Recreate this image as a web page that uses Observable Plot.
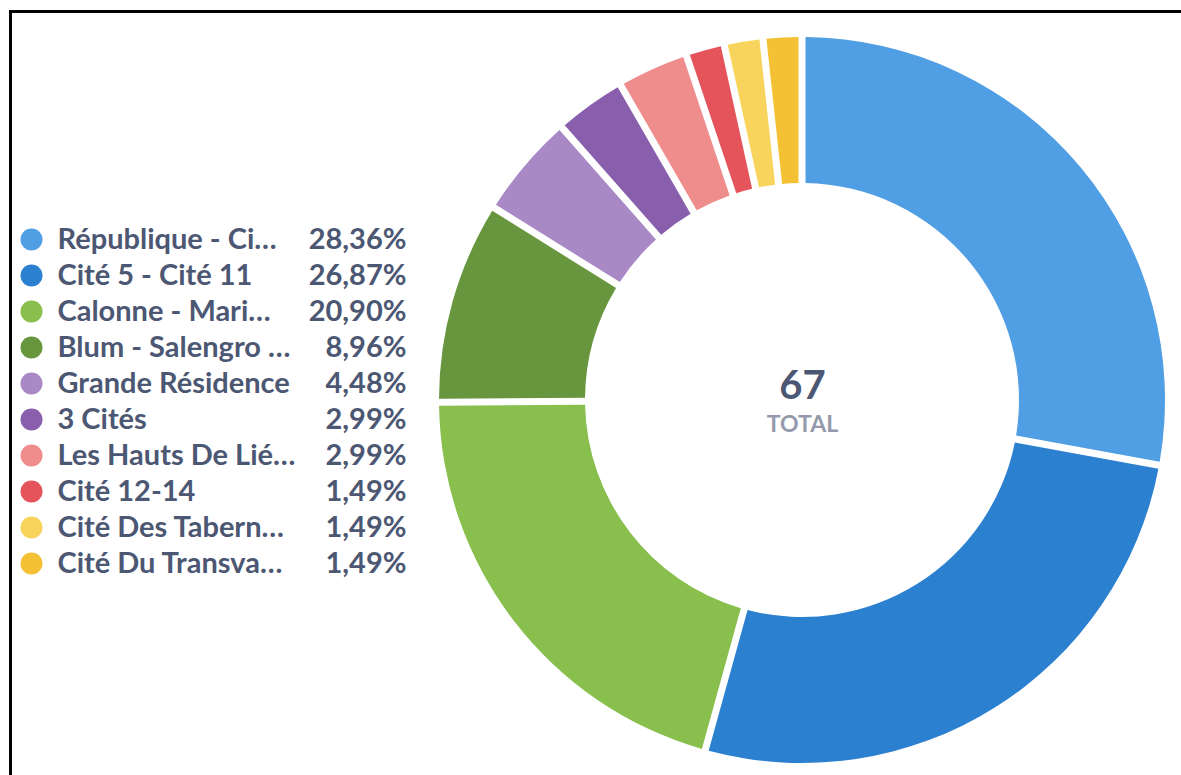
<!DOCTYPE html>
<html><head><meta charset="utf-8">
<script src="https://cdn.jsdelivr.net/npm/d3@7"></script>
<script src="https://cdn.jsdelivr.net/npm/@observablehq/plot@0.6"></script>
<style>
html,body{margin:0;padding:0;background:#fff;overflow:hidden;}
#stage{position:relative;width:1181px;height:775px;overflow:hidden;font-family:Lato,sans-serif;}
#frame{position:absolute;left:9px;top:10px;width:1400px;height:1000px;border-left:3px solid #000;border-top:3px solid #000;}
#legend{position:absolute;left:0;top:219px;}
#donut{position:absolute;left:432px;top:30px;}
svg{overflow:visible;}
</style></head><body>
<div id="stage"><div id="frame"></div><div id="legend"></div><div id="donut"></div></div>
<script>
const names = ["République - Ci…", "Cité 5 - Cité 11", "Calonne - Mari…", "Blum - Salengro …", "Grande Résidence", "3 Cités", "Les Hauts De Lié…", "Cité 12-14", "Cité Des Tabern…", "Cité Du Transva…"];
const counts = [19, 18, 14, 6, 3, 2, 2, 1, 1, 1];
const colors = ["#509EE3", "#2C80D0", "#88BF4D", "#68963F", "#A989C5", "#895EAD", "#EF8C8C", "#E5545B", "#F9D45C", "#F5C134"];
const totalLabel = "TOTAL";

const total = d3.sum(counts);
const pieArcs = d3.pie().sort(null).padAngle(0.0166)(counts);
const rows = names.map((name, i) => ({
  name,
  count: counts[i],
  color: colors[i],
  pct: (counts[i] / total * 100).toFixed(2).replace(".", ",") + "%",
  startAngle: pieArcs[i].startAngle,
  endAngle: pieArcs[i].endAngle,
  padAngle: pieArcs[i].padAngle
}));

const ink = "#4c5773";
const OUTER = 363 / 370, INNER = 217 / 370;

const legend = Plot.plot({
  width: 406, height: 364, margin: 0,
  y: {type: "band", domain: names, padding: 0, axis: null},
  color: {type: "identity"},
  style: {fontFamily: "Lato, sans-serif", background: "transparent"},
  marks: [
    Plot.dot(rows, {y: "name", frameAnchor: "left", dx: 31, r: 11, fill: "color", stroke: null}),
    Plot.text(rows, {y: "name", text: "name", frameAnchor: "left", dx: 57, textAnchor: "start", fontSize: 29, fontWeight: 700, fill: ink}),
    Plot.text(rows, {y: "name", text: "pct", frameAnchor: "right", textAnchor: "end", fontSize: 29, fontWeight: 700, fill: ink})
  ]
});
document.getElementById("legend").append(legend);

const donut = Plot.plot({
  width: 740, height: 740, margin: 0,
  x: {domain: [-1, 1], axis: null},
  y: {domain: [-1, 1], axis: null},
  style: {fontFamily: "Lato, sans-serif", background: "transparent"},
  marks: [
    Plot.dot(rows, {
      x: () => 0, y: () => 0,
      render(index, scales) {
        const cx = scales.x(0), cy = scales.y(0);
        const ro = Math.abs(scales.x(OUTER) - cx), ri = Math.abs(scales.x(INNER) - cx);
        const arc = d3.arc().innerRadius(ri).outerRadius(ro);
        const g = d3.create("svg:g").attr("transform", `translate(${cx},${cy})`);
        g.selectAll("path").data(index).join("path")
          .attr("d", i => arc(rows[i]))
          .attr("fill", i => rows[i].color);
        return g.node();
      }
    }),
    Plot.text([total], {x: () => 0, y: () => 0, text: d => String(d), dy: -14, fontSize: 40, fontWeight: 700, fill: ink}),
    Plot.text([totalLabel], {x: () => 0, y: () => 0, text: d => d, dy: 24, fontSize: 23, fontWeight: 700, fill: "#949aab"})
  ]
});
document.getElementById("donut").append(donut);
</script>
</body></html>
